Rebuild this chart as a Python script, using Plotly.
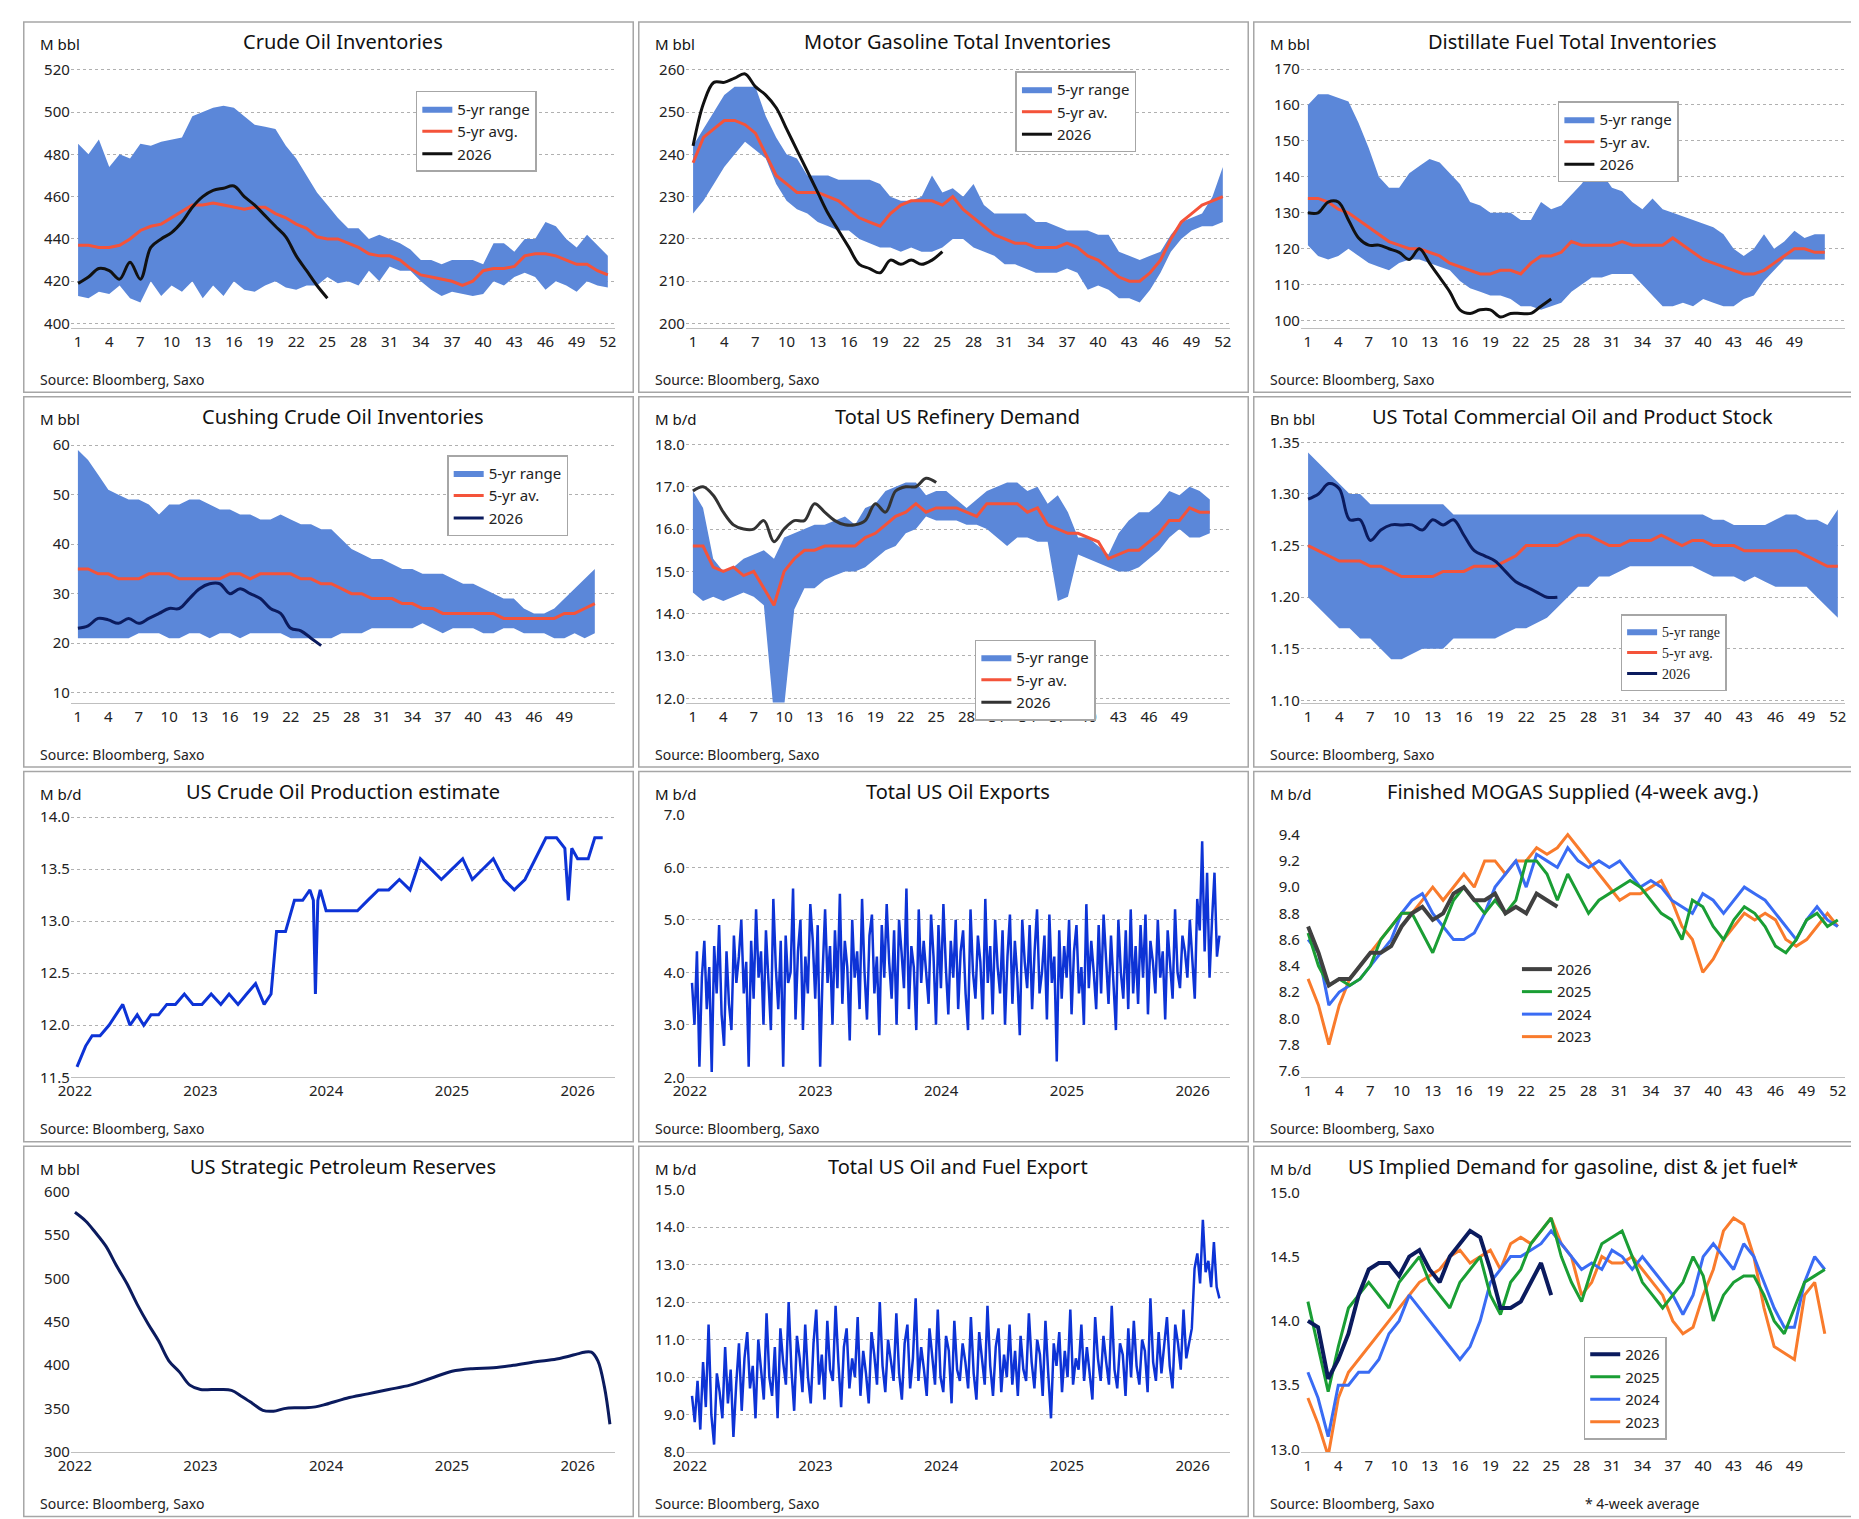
import pandas as pd
import plotly.graph_objects as go

# ---------------- data ----------------
weeks = list(range(1, 53))

crude_low = [413,412,415,414,418,412,410,420,413,418,415,420,412,418,413,420,416,415,418,420,417,416,418,418,422,419,420,418,425,420,427,425,425,420,416,413,415,414,413,414,420,418,422,424,422,416,420,418,415,420,418,417]
crude_high = [485,480,487,474,480,478,485,484,486,487,488,498,500,502,503,502,498,494,493,492,484,478,470,462,456,450,445,445,440,442,440,438,435,430,430,428,430,430,430,428,438,438,434,440,440,448,446,440,436,442,437,432]
crude_avg = [437,437,436,436,437,440,444,446,447,450,453,456,456,457,456,455,454,455,455,452,450,447,445,441,440,440,438,436,433,432,432,430,426,423,422,421,420,418,420,425,426,426,427,432,433,433,432,430,428,428,425,423]
crude_2026 = [419,422,426,425,421,429,421,436,440,443,448,455,460,463,464,465,460,456,451,446,441,432,425,418,412]

gas_low = [226,229,233,237,240,243,241,239,233,229,227,226,224,223,222,222,220,219,218,218,217,218,217,217,218,220,220,218,217,216,214,214,213,212,212,212,213,212,208,209,208,206,206,205,208,212,217,220,222,223,223,224]
gas_high = [242,246,250,254,256,256,256,249,244,240,239,235,235,235,234,234,234,234,233,230,229,229,230,235,231,232,230,233,228,226,226,226,226,224,224,223,222,222,222,221,221,217,216,215,216,217,221,224,225,226,230,237]
gas_avg = [238,244,246,248,248,247,245,240,235,233,231,231,231,230,229,227,225,224,223,226,228,229,229,229,228,230,227,225,223,221,220,219,219,218,218,218,219,218,216,215,213,211,210,210,212,215,220,224,226,228,229,230]
gas_2026 = [242,252,257,257,258,259,256,254,251,246,241,236,231,226,222,218,214,213,212,215,214,215,214,215,217]

dist_low = [121,118,117,118,120,118,116,115,114,116,117,117,116,115,114,111,109,108,107,107,106,104,104,103,104,105,108,110,112,112,113,113,113,110,107,104,104,105,104,106,105,104,104,106,107,111,114,117,117,117,117,117]
dist_high = [160,163,163,162,161,155,148,140,137,137,141,143,145,144,141,138,133,132,130,130,130,128,128,133,131,132,135,138,142,141,137,136,133,131,134,131,130,129,128,127,126,124,120,118,120,124,120,122,125,123,124,124]
dist_avg = [134,134,133,131,130,128,126,124,122,121,120,120,119,118,116,115,114,113,113,114,114,113,116,118,118,119,122,121,121,121,121,122,121,121,121,121,123,121,119,117,116,115,114,113,113,114,116,118,120,120,119,119]
dist_2026 = [130,130,133,133,128,123,121,121,120,119,117,120,116,112,108,103,102,103,103,101,102,102,102,104,106]

cush_low = [21,21,21,21,21,21,22,22,22,21,21,22,22,21,22,22,21,22,22,22,22,21,21,21,21,21,22,22,22,23,23,23,23,23,24,23,22,23,23,23,22,22,23,23,22,22,22,21,21,22,21,22]
cush_high = [59,57,54,51,50,49,49,48,46,48,48,49,49,48,47,47,46,46,45,45,46,45,44,44,43,43,41,39,38,37,37,36,35,35,34,34,34,33,32,32,31,30,29,29,27,26,26,27,29,31,33,35]
cush_avg = [35,35,34,34,33,33,33,34,34,34,33,33,33,33,33,34,34,33,34,34,34,34,33,33,32,32,31,30,30,29,29,29,28,28,27,27,26,26,26,26,26,26,25,25,25,25,25,25,26,26,27,28]
cush_2026 = [23,23.5,25,24.7,24,25,24,25,26,27,27,29,31,32,32,30,31,30,29,27,26,23,22.5,21,19.5]

ref_low = [14.5,14.3,14.4,14.3,14.4,14.5,14.4,14.2,11.6,11.8,14.1,14.6,14.6,14.8,14.9,15.0,15.0,15.1,15.3,15.5,15.6,15.9,16.0,16.3,16.2,16.2,16.2,16.1,16.1,16.0,15.8,15.6,15.8,15.8,15.7,15.7,14.3,14.4,15.4,15.3,15.2,15.1,15.0,15.0,15.1,15.3,15.5,15.8,16.0,15.8,15.8,15.9]
ref_high = [16.9,16.5,15.3,15.0,15.1,15.3,15.4,15.5,15.3,15.8,15.9,16.0,16.1,16.1,16.2,16.3,16.1,16.5,16.6,16.9,17.0,17.1,17.1,16.8,16.9,16.9,16.7,16.5,16.7,16.9,17.0,17.1,17.1,16.9,17.0,16.6,16.8,16.4,15.8,15.8,15.6,15.4,15.9,16.2,16.4,16.4,16.6,16.9,16.8,17.0,16.9,16.7]
ref_avg = [15.6,15.6,15.1,15.0,15.1,14.9,15.0,14.6,14.2,15.0,15.3,15.5,15.5,15.6,15.6,15.6,15.6,15.8,15.9,16.1,16.3,16.4,16.6,16.4,16.5,16.5,16.5,16.4,16.3,16.6,16.6,16.6,16.6,16.4,16.5,16.1,16.0,15.9,15.9,15.8,15.7,15.3,15.4,15.5,15.5,15.7,15.9,16.2,16.2,16.5,16.4,16.4]
ref_2026 = [16.9,17.0,16.8,16.4,16.1,16.0,16.0,16.2,15.7,16.0,16.2,16.2,16.6,16.4,16.2,16.1,16.1,16.2,16.6,16.4,16.9,17.0,17.0,17.2,17.1]

stk_low = [1.20,1.19,1.18,1.17,1.17,1.16,1.16,1.15,1.14,1.14,1.145,1.15,1.15,1.15,1.16,1.16,1.16,1.16,1.16,1.165,1.17,1.17,1.175,1.18,1.19,1.20,1.21,1.21,1.22,1.22,1.225,1.23,1.23,1.23,1.23,1.23,1.23,1.23,1.225,1.22,1.22,1.22,1.215,1.22,1.215,1.21,1.21,1.21,1.21,1.20,1.19,1.18]
stk_high = [1.34,1.33,1.32,1.31,1.30,1.30,1.29,1.29,1.29,1.29,1.29,1.29,1.29,1.29,1.28,1.28,1.28,1.28,1.28,1.28,1.28,1.28,1.28,1.28,1.28,1.28,1.28,1.28,1.28,1.28,1.28,1.28,1.28,1.28,1.28,1.28,1.28,1.28,1.28,1.275,1.275,1.27,1.27,1.27,1.27,1.275,1.28,1.28,1.275,1.275,1.27,1.285]
stk_avg = [1.25,1.245,1.24,1.235,1.235,1.235,1.23,1.23,1.225,1.22,1.22,1.22,1.22,1.225,1.225,1.225,1.23,1.23,1.23,1.235,1.24,1.25,1.25,1.25,1.25,1.255,1.26,1.26,1.255,1.25,1.25,1.255,1.255,1.255,1.26,1.255,1.25,1.255,1.255,1.25,1.25,1.25,1.245,1.245,1.245,1.245,1.245,1.245,1.24,1.235,1.23,1.23]
stk_2026 = [1.295,1.30,1.31,1.305,1.275,1.275,1.255,1.265,1.27,1.27,1.27,1.265,1.275,1.27,1.275,1.26,1.245,1.24,1.235,1.225,1.215,1.21,1.205,1.20,1.20]

prod_dates = ['2022-01-07','2022-02-01','2022-02-20','2022-03-15','2022-04-10','2022-05-01','2022-05-20','2022-06-10','2022-07-01','2022-07-20','2022-08-10','2022-09-01','2022-09-25','2022-10-20','2022-11-15','2022-12-10',
              '2023-01-05','2023-02-01','2023-03-01','2023-03-25','2023-04-20','2023-05-15','2023-06-10','2023-07-05','2023-07-25','2023-08-10','2023-09-05','2023-10-01','2023-10-25','2023-11-15','2023-11-25','2023-12-01','2023-12-08','2023-12-15','2024-01-01',
              '2024-02-01','2024-03-01','2024-04-01','2024-05-01','2024-06-01','2024-07-01','2024-08-01','2024-09-01','2024-10-01','2024-11-01','2024-12-01',
              '2025-01-01','2025-02-01','2025-03-01','2025-04-01','2025-05-01','2025-06-01','2025-07-01','2025-08-01','2025-09-01','2025-10-01','2025-11-01','2025-11-25','2025-12-05','2025-12-15','2026-01-01','2026-02-01','2026-02-20','2026-03-15']
prod_vals = [11.6,11.8,11.9,11.9,12.0,12.1,12.2,12.0,12.1,12.0,12.1,12.1,12.2,12.2,12.3,12.2,
             12.2,12.3,12.2,12.3,12.2,12.3,12.4,12.2,12.3,12.9,12.9,13.2,13.2,13.3,13.2,12.3,13.2,13.3,13.1,
             13.1,13.1,13.1,13.2,13.3,13.3,13.4,13.3,13.6,13.5,13.4,
             13.5,13.6,13.4,13.5,13.6,13.4,13.3,13.4,13.6,13.8,13.8,13.7,13.2,13.7,13.6,13.6,13.8,13.8]

exports = [3.8,3.0,4.4,2.2,3.9,4.6,3.3,4.1,2.1,4.5,3.6,4.9,3.2,2.6,4.4,3.4,2.9,4.7,3.8,4.3,
           5.0,3.6,4.2,2.2,4.6,3.5,5.2,3.9,4.4,3.0,4.8,3.7,2.9,5.4,4.1,3.3,4.6,2.2,4.7,3.8,
           4.0,5.6,3.1,4.4,5.0,2.9,4.3,3.6,5.3,4.6,3.5,4.9,2.2,4.0,5.2,3.8,4.5,3.0,4.8,3.7,
           5.5,3.4,4.6,4.1,2.7,5.0,3.9,4.4,3.3,5.4,4.0,3.1,4.7,5.1,3.6,4.3,2.8,4.9,3.9,5.3,
           4.2,3.5,4.8,3.0,5.0,4.4,3.7,5.6,3.3,4.5,4.1,2.9,5.2,3.8,4.6,4.0,3.4,5.1,4.3,3.0,
           4.9,3.7,5.3,4.1,3.2,4.6,3.9,5.0,3.3,4.4,4.8,3.6,2.9,5.2,4.0,3.5,4.7,4.2,3.1,5.4,
           3.8,4.5,3.2,5.0,4.1,3.6,4.8,3.0,4.3,5.1,3.4,4.6,3.9,2.8,5.0,4.2,3.7,4.9,3.3,4.4,
           5.2,3.6,4.0,4.7,3.1,5.1,3.8,4.3,2.3,4.8,3.5,4.5,3.9,5.0,3.2,4.4,4.9,3.6,4.1,3.0,
           5.3,3.7,4.6,4.0,3.3,4.9,3.6,5.1,4.2,3.4,4.7,3.8,2.9,5.0,4.0,3.5,4.8,3.3,5.2,3.6,
           4.5,3.4,4.9,3.9,5.1,3.2,4.6,4.2,3.6,5.0,3.9,4.4,3.1,4.8,4.1,3.5,5.2,4.0,3.7,4.7,
           4.4,3.9,5.0,4.3,3.5,5.4,4.8,6.5,4.4,5.9,3.9,5.0,5.9,4.3,4.7]

fuel_exports = [9.5,8.8,9.9,8.6,10.4,9.2,11.4,9.0,8.2,10.1,9.6,8.9,10.8,9.3,10.2,8.4,9.8,10.9,9.1,10.5,
                11.2,9.7,10.3,8.9,11.0,10.1,9.4,11.7,10.0,9.5,10.8,8.9,11.3,10.4,9.8,12.0,10.2,9.1,11.1,10.5,
                9.6,11.4,10.0,9.3,10.9,11.8,9.8,10.6,9.4,11.5,10.2,9.9,11.9,10.4,9.2,10.8,11.3,9.7,10.5,10.0,
                11.6,9.5,10.7,10.1,9.3,11.2,10.6,9.8,12.0,10.3,9.6,11.0,10.4,9.9,11.7,10.1,9.4,10.9,11.4,9.7,
                10.5,12.1,9.9,10.8,10.2,9.5,11.3,10.6,9.8,11.8,10.0,9.6,11.1,10.7,9.3,11.5,10.2,9.9,10.9,10.4,
                9.7,11.6,10.1,9.4,11.2,10.5,9.8,11.9,10.3,9.5,10.8,11.3,9.6,10.6,10.0,11.4,9.8,10.7,9.5,11.1,
                10.2,9.9,11.7,10.4,9.7,11.0,10.6,9.5,11.5,10.1,8.9,10.9,10.3,11.2,9.6,10.7,10.0,11.8,9.8,10.5,
                10.2,11.4,9.9,10.8,10.1,9.4,11.6,10.5,9.9,11.1,10.4,9.8,11.9,10.2,9.7,10.9,10.6,9.5,11.3,10.0,
                11.5,10.3,9.8,11.0,10.7,9.6,12.1,10.4,9.9,11.2,10.1,10.8,11.6,10.3,9.7,11.4,10.9,10.2,11.8,10.5,
                10.9,11.3,12.9,13.3,12.5,14.2,12.8,13.1,12.4,13.6,12.4,12.1]

spr_dates = ['2022-01-01','2022-02-01','2022-03-01','2022-04-01','2022-05-01','2022-06-01','2022-07-01','2022-08-01','2022-09-01','2022-10-01','2022-11-01','2022-12-01',
             '2023-01-01','2023-02-01','2023-03-01','2023-04-01','2023-05-01','2023-06-01','2023-07-01','2023-08-01','2023-09-01','2023-10-01','2023-11-01','2023-12-01',
             '2024-01-01','2024-03-01','2024-05-01','2024-07-01','2024-09-01','2024-11-01','2025-01-01','2025-03-01','2025-05-01','2025-07-01','2025-09-01','2025-11-01',
             '2026-01-01','2026-01-20','2026-02-10','2026-03-01','2026-03-20','2026-04-05']
spr_vals = [576,566,553,537,515,494,470,448,428,405,392,377,
            372,372,372,371,364,356,348,347,350,351,351,352,
            355,362,367,372,377,385,393,396,397,400,404,407,
            413,415,415,405,375,332]

mog_2023 = [8.3,8.1,7.8,8.1,8.3,8.4,8.5,8.6,8.7,8.8,8.8,8.9,9.0,8.9,9.0,9.1,9.0,9.2,9.2,9.1,9.2,9.2,9.3,9.25,9.3,9.4,9.3,9.2,9.1,9.0,8.9,8.95,8.95,9.0,9.05,8.9,8.7,8.6,8.35,8.45,8.6,8.7,8.8,8.75,8.8,8.75,8.6,8.55,8.6,8.7,8.8,8.7]
mog_2024 = [8.6,8.5,8.1,8.2,8.25,8.3,8.4,8.5,8.6,8.8,8.9,8.95,8.8,8.7,8.6,8.6,8.65,8.8,9.0,9.1,9.2,9.0,9.25,9.2,9.15,9.3,9.2,9.15,9.2,9.15,9.2,9.1,9.0,9.05,9.0,8.9,8.85,8.8,8.95,8.9,8.8,8.9,9.0,8.95,8.9,8.8,8.7,8.6,8.75,8.85,8.75,8.7]
mog_2025 = [8.65,8.4,8.25,8.3,8.25,8.3,8.4,8.6,8.7,8.8,8.8,8.65,8.5,8.7,8.9,9.0,8.9,8.8,8.9,8.8,8.9,9.2,9.2,9.1,8.9,9.1,8.95,8.8,8.9,8.95,9.0,9.05,9.0,8.9,8.8,8.75,8.6,8.9,8.85,8.7,8.6,8.75,8.85,8.8,8.7,8.55,8.5,8.6,8.75,8.8,8.7,8.75]
mog_2026 = [8.7,8.5,8.25,8.3,8.3,8.4,8.5,8.5,8.55,8.7,8.8,8.85,8.75,8.8,8.95,9.0,8.9,8.9,8.95,8.8,8.85,8.8,8.95,8.9,8.85]

dem_2023 = [13.4,13.2,12.95,13.4,13.6,13.7,13.8,13.9,14.0,14.1,14.2,14.3,14.35,14.4,14.5,14.55,14.45,14.5,14.55,14.4,14.6,14.65,14.6,14.7,14.8,14.6,14.5,14.2,14.3,14.5,14.45,14.45,14.5,14.4,14.3,14.2,14.0,13.9,13.95,14.2,14.4,14.7,14.8,14.75,14.5,14.1,13.8,13.75,13.7,14.2,14.3,13.9]
dem_2024 = [13.6,13.4,13.1,13.5,13.5,13.6,13.6,13.7,13.9,14.0,14.2,14.1,14.0,13.9,13.8,13.7,13.8,14.0,14.3,14.4,14.5,14.5,14.55,14.6,14.7,14.6,14.5,14.4,14.45,14.4,14.55,14.5,14.4,14.5,14.4,14.3,14.2,14.05,14.2,14.5,14.6,14.5,14.4,14.6,14.5,14.3,14.1,13.95,13.95,14.3,14.5,14.4]
dem_2025 = [14.15,13.8,13.45,13.8,14.1,14.2,14.3,14.2,14.1,14.3,14.4,14.5,14.3,14.2,14.1,14.3,14.4,14.5,14.2,14.05,14.3,14.4,14.6,14.7,14.8,14.5,14.3,14.15,14.4,14.6,14.65,14.7,14.5,14.3,14.2,14.1,14.2,14.3,14.5,14.35,14.0,14.2,14.3,14.35,14.35,14.2,14.0,13.9,14.1,14.3,14.35,14.4]
dem_2026 = [14.0,13.95,13.55,13.7,13.9,14.2,14.4,14.45,14.45,14.35,14.5,14.55,14.4,14.3,14.5,14.6,14.7,14.65,14.4,14.1,14.1,14.15,14.3,14.45,14.2]

# ---------------- styling ----------------
FONT = "Noto Sans"
BAND = "#5b87d9"
AVG = "#f4533a"
BLUE = "#0d33d6"
NAVY = "#0b1b5e"
GRID = "#b0b0b0"
wk_ticks = list(range(1, 53, 3))

fig = go.Figure()
layout = dict()
annots = []
shapes = []


def panel_axes(i, row, col, ytick, yrange, date_axis=False, xrange=None):
    left = col / 3
    top = 1 - row / 4
    xd = [left + 0.027, left + 0.322]
    yd = [top - 0.206, top - 0.031]
    sfx = "" if i == 1 else str(i)
    xa = dict(domain=xd, anchor="y" + sfx, showgrid=False, ticks="", showline=True,
              linecolor="#bfbfbf", tickfont=dict(size=15, color="#222"), zeroline=False)
    if date_axis:
        xa.update(type="date", dtick="M12", tickformat="%Y", range=xrange)
    else:
        xa.update(tickvals=wk_ticks, range=xrange or [0.3, 52.7])
    ya = dict(domain=yd, anchor="x" + sfx, range=yrange, dtick=ytick, showgrid=True,
              gridcolor=GRID, griddash="dot", zeroline=False, tickfont=dict(size=15, color="#222"),
              ticks="", showline=False)
    layout["xaxis" + sfx] = xa
    layout["yaxis" + sfx] = ya
    shapes.append(dict(type="rect", xref="paper", yref="paper", x0=left + 0.0015, x1=left + 1/3 - 0.0015,
                       y0=top - 0.249, y1=top - 0.002, line=dict(color="#a6a6a6", width=1.5)))
    return "x" + sfx, "y" + sfx, left, top, (xd[0] + xd[1]) / 2


def texts(left, top, xc, title, unit, source=True, note=None):
    annots.append(dict(text=title, x=xc, y=top - 0.005, xref="paper", yref="paper", xanchor="center",
                       yanchor="top", showarrow=False, font=dict(size=20, color="#111")))
    annots.append(dict(text=unit, x=left + 0.009, y=top - 0.009, xref="paper", yref="paper", xanchor="left",
                       yanchor="top", showarrow=False, font=dict(size=15, color="#111")))
    if source:
        annots.append(dict(text="Source: Bloomberg, Saxo", x=left + 0.009, y=top - 0.248, xref="paper",
                           yref="paper", xanchor="left", yanchor="bottom", showarrow=False,
                           font=dict(size=14, color="#222")))
    if note:
        annots.append(dict(text=note, x=left + 0.18, y=top - 0.248, xref="paper", yref="paper",
                           xanchor="left", yanchor="bottom", showarrow=False, font=dict(size=14, color="#222")))


def legend_box(name, x, y, border=True, size=15):
    layout[name] = dict(x=x, y=y, xanchor="left", yanchor="top", bgcolor="white", traceorder="normal",
                        bordercolor="#a6a6a6" if border else "rgba(0,0,0,0)", borderwidth=1.5,
                        font=dict(size=size, color="#222"), tracegroupgap=0, itemwidth=30)


def seasonal(i, row, col, low, high, avg, cur, ytick, yr, title, unit, leg, names, cur_color="#111", xr=None):
    xa, ya, left, top, xc = panel_axes(i, row, col, ytick, yr, xrange=xr)
    fig.add_trace(go.Scatter(x=weeks, y=low, mode="lines", line=dict(width=0, color=BAND),
                             showlegend=False, hoverinfo="skip", xaxis=xa, yaxis=ya))
    fig.add_trace(go.Scatter(x=weeks, y=high, mode="lines", line=dict(width=0, color=BAND), fill="tonexty",
                             fillcolor=BAND, name=names[0], legend=leg, xaxis=xa, yaxis=ya))
    fig.add_trace(go.Scatter(x=weeks, y=avg, mode="lines", line=dict(width=3, color=AVG), name=names[1],
                             legend=leg, xaxis=xa, yaxis=ya))
    fig.add_trace(go.Scatter(x=weeks[:len(cur)], y=cur, mode="lines", line=dict(width=3, color=cur_color, shape="spline"),
                             name="2026", legend=leg, xaxis=xa, yaxis=ya))
    texts(left, top, xc, title, unit)


seasonal(1, 0, 0, crude_low, crude_high, crude_avg, crude_2026, 20, [398, 522], "Crude Oil Inventories", "M bbl",
         "legend", ["5-yr range", "5-yr avg."])
legend_box("legend", 0.214, 0.952)
seasonal(2, 0, 1, gas_low, gas_high, gas_avg, gas_2026, 10, [199, 261], "Motor Gasoline Total Inventories", "M bbl",
         "legend2", ["5-yr range", "5-yr av."])
legend_box("legend2", 0.539, 0.965)
seasonal(3, 0, 2, dist_low, dist_high, dist_avg, dist_2026, 10, [98, 171], "Distillate Fuel Total Inventories", "M bbl",
         "legend3", ["5-yr range", "5-yr av."], xr=[0.3, 54])
layout["xaxis3"]["tickvals"] = list(range(1, 50, 3))
legend_box("legend3", 0.833, 0.945)
seasonal(4, 1, 0, cush_low, cush_high, cush_avg, cush_2026, 10, [8, 61], "Cushing Crude Oil Inventories", "M bbl",
         "legend4", ["5-yr range", "5-yr av."], cur_color=NAVY, xr=[0.3, 54])
layout["xaxis4"]["tickvals"] = list(range(1, 50, 3))
legend_box("legend4", 0.231, 0.709)
seasonal(5, 1, 1, ref_low, ref_high, ref_avg, ref_2026, 1, [11.9, 18.1], "Total US Refinery Demand", "M b/d",
         "legend5", ["5-yr range", "5-yr av."], cur_color="#333", xr=[0.3, 54])
layout["xaxis5"]["tickvals"] = list(range(1, 50, 3))
layout["yaxis5"]["tickformat"] = ".1f"
legend_box("legend5", 0.517, 0.586)
seasonal(6, 1, 2, stk_low, stk_high, stk_avg, stk_2026, 0.05, [1.098, 1.352], "US Total Commercial Oil and Product Stock",
         "Bn bbl", "legend6", ["5-yr range", "5-yr avg."], cur_color=NAVY)
layout["yaxis6"]["tickformat"] = ".2f"
legend_box("legend6", 0.867, 0.603, size=14)
layout["legend6"]["font"]["family"] = "Liberation Serif"

# Row 3 & 4: time series
xr_ts = ["2021-12-20", "2026-04-20"]
xa, ya, left, top, xc = panel_axes(7, 2, 0, 0.5, [11.5, 14.02], True, xr_ts)
layout["yaxis7"]["tickformat"] = ".1f"
fig.add_trace(go.Scatter(x=pd.to_datetime(prod_dates), y=prod_vals, mode="lines", line=dict(width=3, color=BLUE),
                         showlegend=False, xaxis=xa, yaxis=ya))
texts(left, top, xc, "US Crude Oil Production estimate", "M b/d")

xa, ya, left, top, xc = panel_axes(8, 2, 1, 1, [2, 7], True, xr_ts)
layout["yaxis8"]["tickformat"] = ".1f"
fig.add_trace(go.Scatter(x=pd.date_range("2022-01-07", "2026-03-20", periods=len(exports)), y=exports, mode="lines",
                         line=dict(width=2.5, color=BLUE), showlegend=False, xaxis=xa, yaxis=ya))
texts(left, top, xc, "Total US Oil Exports", "M b/d")

xa, ya, left, top, xc = panel_axes(9, 2, 2, 0.2, [7.55, 9.55])
layout["yaxis9"]["tickformat"] = ".1f"
layout["yaxis9"]["showgrid"] = False
for name, vals, col in [("2023", mog_2023, "#f97b2c"), ("2024", mog_2024, "#3a6cf4"),
                        ("2025", mog_2025, "#1a9e34"), ("2026", mog_2026, "#404040")]:
    fig.add_trace(go.Scatter(x=weeks[:len(vals)], y=vals, mode="lines", name=name, legend="legend9",
                             line=dict(width=4 if name == "2026" else 3, color=col), xaxis=xa, yaxis=ya))
texts(left, top, xc, "Finished MOGAS Supplied (4-week avg.)", "M b/d")
legend_box("legend9", 0.81, 0.378, border=False)
layout["legend9"]["traceorder"] = "reversed"
layout["legend9"]["bgcolor"] = "rgba(0,0,0,0)"

xa, ya, left, top, xc = panel_axes(10, 3, 0, 50, [300, 602], True, xr_ts)
layout["yaxis10"]["showgrid"] = False
fig.add_trace(go.Scatter(x=pd.to_datetime(spr_dates), y=spr_vals, mode="lines", line=dict(width=3, color=NAVY, shape="spline"),
                         showlegend=False, xaxis=xa, yaxis=ya))
texts(left, top, xc, "US Strategic Petroleum Reserves", "M bbl")

xa, ya, left, top, xc = panel_axes(11, 3, 1, 1, [8, 15], True, xr_ts)
layout["yaxis11"]["tickformat"] = ".1f"
fig.add_trace(go.Scatter(x=pd.date_range("2022-01-07", "2026-03-20", periods=len(fuel_exports)), y=fuel_exports,
                         mode="lines", line=dict(width=2.5, color=BLUE), showlegend=False, xaxis=xa, yaxis=ya))
texts(left, top, xc, "Total US Oil and Fuel Export", "M b/d")

xa, ya, left, top, xc = panel_axes(12, 3, 2, 0.5, [12.98, 15.02], xrange=[0.3, 54])
layout["xaxis12"]["tickvals"] = list(range(1, 50, 3))
layout["yaxis12"]["tickformat"] = ".1f"
layout["yaxis12"]["showgrid"] = False
for name, vals, col in [("2023", dem_2023, "#f97b2c"), ("2024", dem_2024, "#3a6cf4"),
                        ("2025", dem_2025, "#1a9e34"), ("2026", dem_2026, NAVY)]:
    fig.add_trace(go.Scatter(x=weeks[:len(vals)], y=vals, mode="lines", name=name, legend="legend12",
                             line=dict(width=4 if name == "2026" else 3, color=col), xaxis=xa, yaxis=ya))
texts(left, top, xc, "US Implied Demand for gasoline, dist & jet fuel*", "M b/d", note="* 4-week average")
legend_box("legend12", 0.847, 0.121)
layout["legend12"]["traceorder"] = "reversed"

fig.update_layout(**layout)
fig.update_layout(width=1859, height=1519, margin=dict(l=0, r=0, t=0, b=0), paper_bgcolor="white",
                  plot_bgcolor="white", font=dict(family=FONT, color="#222"), annotations=annots, shapes=shapes)

fig.write_html("out.html")
